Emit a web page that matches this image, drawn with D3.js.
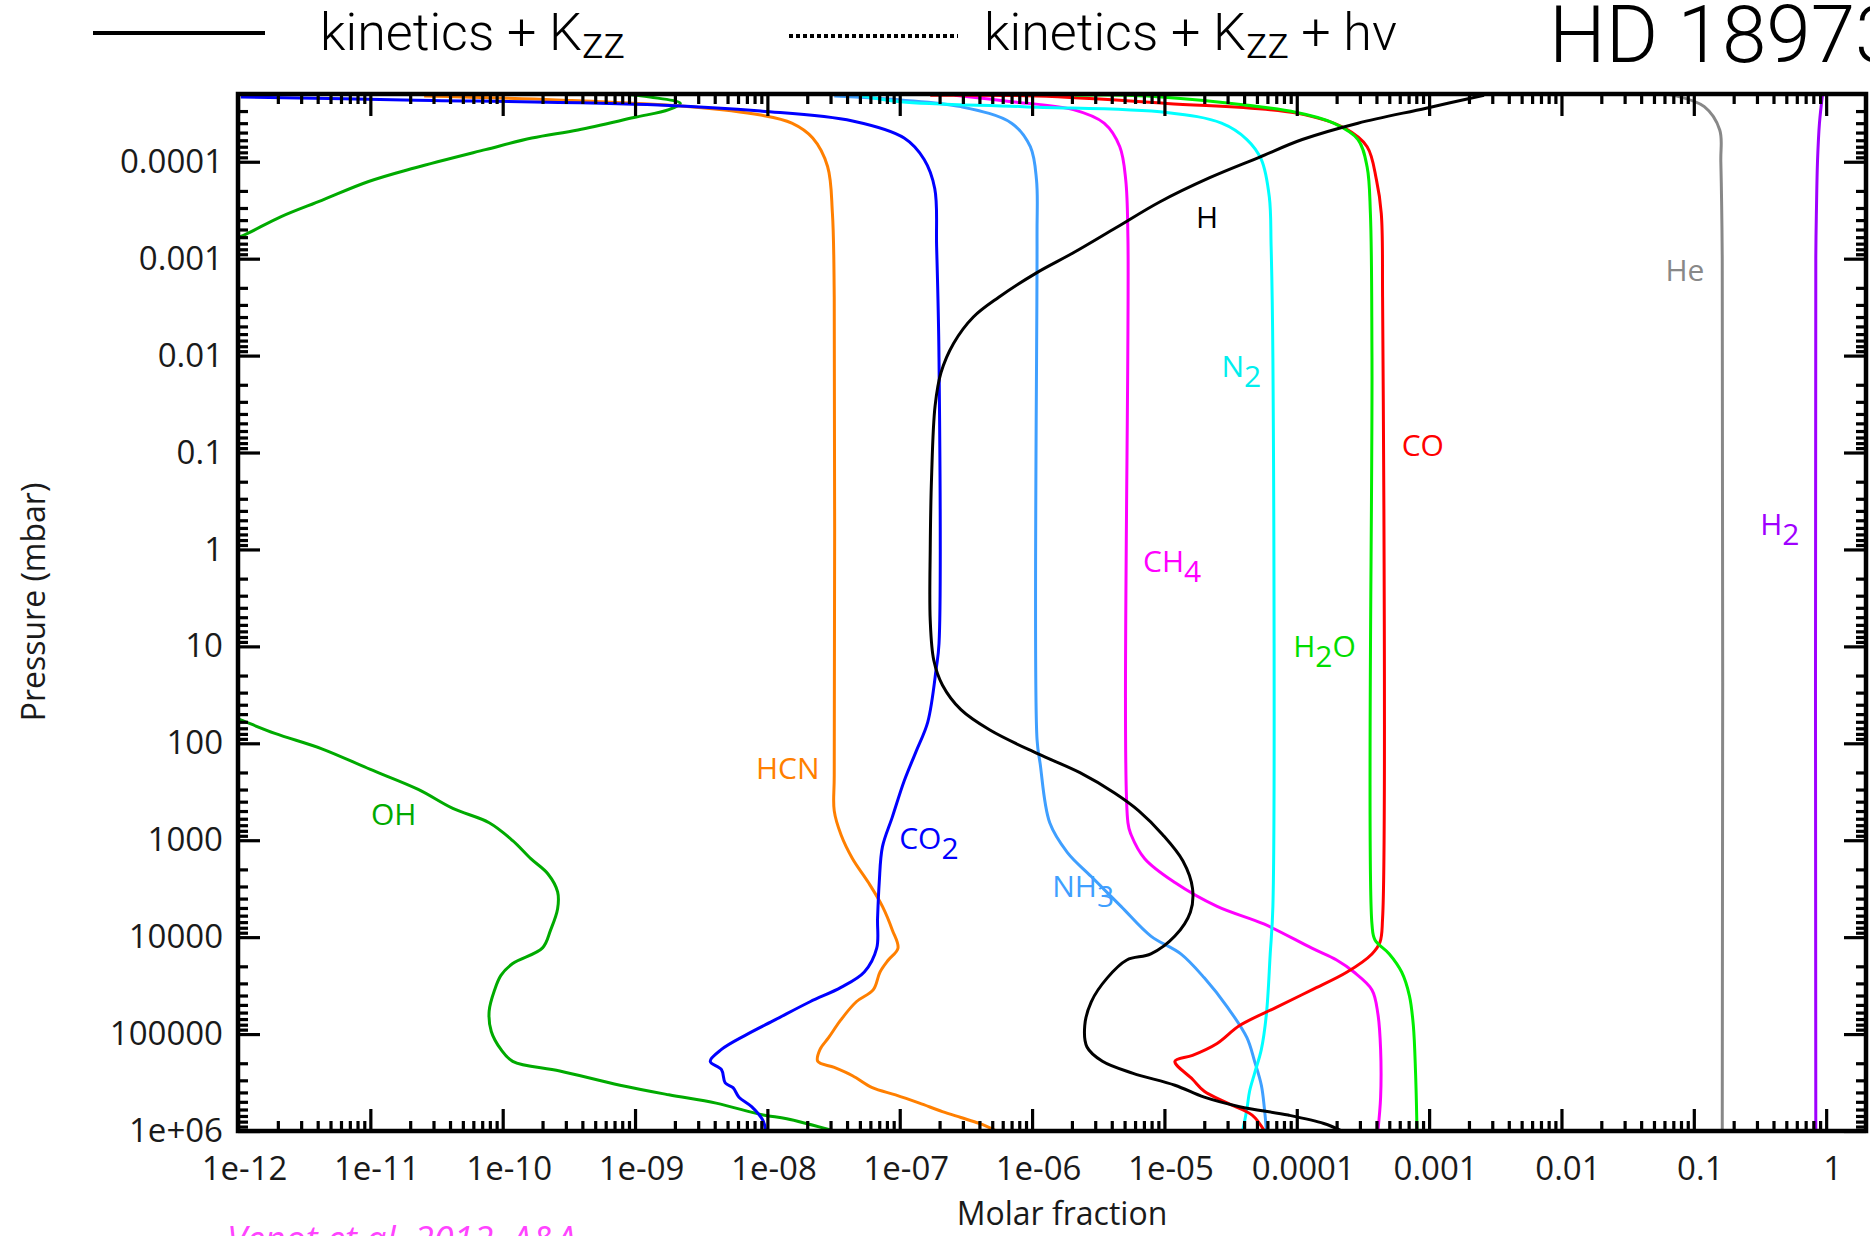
<!DOCTYPE html>
<html>
<head>
<meta charset="utf-8">
<script src="https://cdn.jsdelivr.net/npm/d3@7"></script>
<style>
  body { margin: 0; background: #fff; }
  svg { display: block; }
</style>
</head>
<body>
<svg id="chart" width="1870" height="1236"></svg>
<script>
// tick labels
const fractionTicks = [1e-12, 1e-11, 1e-10, 1e-9, 1e-8, 1e-7, 1e-6, 1e-5, 1e-4, 1e-3, 1e-2, 0.1, 1];
const fractionLabels = ["1e-12", "1e-11", "1e-10", "1e-09", "1e-08", "1e-07", "1e-06", "1e-05", "0.0001", "0.001", "0.01", "0.1", "1"];
const pressureTicks = [1e-4, 1e-3, 1e-2, 0.1, 1, 10, 100, 1000, 1e4, 1e5, 1e6];
const pressureLabels = ["0.0001", "0.001", "0.01", "0.1", "1", "10", "100", "1000", "10000", "100000", "1e+06"];

// profiles: [molar fraction, pressure (mbar)]
const ohTop = [[8e-10, 2.0e-5], [1.3e-9, 2.15e-5], [2.2e-9, 2.5e-5], [1.8e-9, 2.9e-5], [9.8e-10, 3.5e-5], [3.7e-10, 4.7e-5], [1.66e-10, 5.7e-5], [7.4e-11, 7.5e-5], [2.15e-11, 1.16e-4], [9.7e-12, 1.6e-4], [4.3e-12, 2.5e-4], [2.1e-12, 3.7e-4], [1.05e-12, 5.9e-4], [8e-13, 6.6e-4]];
const ohBottom = [[8e-13, 50], [1.0e-12, 56], [1.9e-12, 79], [4.3e-12, 114], [9.9e-12, 185], [2.3e-11, 299], [4.2e-11, 470], [7.9e-11, 660], [1.19e-10, 1010], [1.63e-10, 1550], [2.2e-10, 2230], [2.6e-10, 3420], [2.6e-10, 5080], [2.3e-10, 8460], [2.0e-10, 12900], [1.19e-10, 18700], [9.7e-11, 24800], [8.7e-11, 34900], [7.9e-11, 58000], [8.2e-11, 94000], [9.7e-11, 144000], [1.19e-10, 191000], [2.7e-10, 240000], [7.7e-10, 337000], [1.8e-9, 423000], [4.1e-9, 516000], [9.3e-9, 685000], [1.4e-8, 746000], [3.2e-8, 1e6]];
const hcn = [[2.55e-11, 2.1e-5], [2.55e-10, 2.3e-5], [2.6e-9, 2.7e-5], [8.9e-9, 3.3e-5], [1.53e-8, 4.0e-5], [2.2e-8, 5.7e-5], [2.85e-8, 1.12e-4], [3.1e-8, 3.4e-4], [3.2e-8, 2.5e-3], [3.2e-8, 213], [3.2e-8, 498], [3.6e-8, 877], [4.4e-8, 1550], [5.8e-8, 2730], [7.4e-8, 4810], [8.8e-8, 8470], [9.7e-8, 13000], [8.2e-8, 17200], [7.1e-8, 22900], [6.3e-8, 35000], [4.7e-8, 46400], [3.6e-8, 71000], [2.9e-8, 109000], [2.5e-8, 144000], [2.4e-8, 191000], [3.2e-8, 221000], [4.4e-8, 269000], [6.2e-8, 357000], [9.3e-8, 424000], [1.41e-7, 516000], [2.1e-7, 630000], [2.9e-7, 726000], [4.0e-7, 836000], [5.4e-7, 1e6]];
const co2 = [[1.05e-12, 2.15e-5], [1.8e-11, 2.3e-5], [1.5e-9, 2.6e-5], [8.9e-9, 3.0e-5], [4.4e-8, 3.8e-5], [1.08e-7, 5.7e-5], [1.53e-7, 9.5e-5], [1.84e-7, 1.9e-4], [1.9e-7, 7.5e-4], [1.98e-7, 0.0105], [1.98e-7, 9.4], [1.89e-7, 16.6], [1.63e-7, 60], [1.33e-7, 121], [1.08e-7, 245], [8.8e-8, 574], [7.4e-8, 1170], [7.0e-8, 2730], [6.8e-8, 6380], [6.7e-8, 13000], [5.4e-8, 22900], [3.6e-8, 33000], [2.1e-8, 46400], [1.15e-8, 71000], [6.8e-9, 103000], [4.5e-9, 144000], [3.7e-9, 191000], [4.5e-9, 233000], [4.8e-9, 319000], [5.5e-9, 357000], [6.1e-9, 448000], [7.6e-9, 561000], [9.3e-9, 788000], [9.7e-9, 1e6]];
const nh3 = [[3.2e-8, 2.1e-5], [1.01e-7, 2.3e-5], [2.9e-7, 2.7e-5], [7.0e-7, 4.0e-5], [9.7e-7, 7.0e-5], [1.08e-6, 1.54e-4], [1.09e-6, 6.2e-4], [1.09e-6, 91], [1.15e-6, 161], [1.36e-6, 662], [1.85e-6, 1340], [2.8e-6, 2370], [4.7e-6, 4810], [7.9e-6, 9750], [1.33e-5, 14900], [2.0e-5, 26300], [3.0e-5, 53000], [4.2e-5, 109000], [4.8e-5, 191000], [5.4e-5, 337000], [5.7e-5, 594000], [5.9e-5, 1e6]];
const ch4 = [[2.6e-7, 2.06e-5], [7.0e-7, 2.4e-5], [2.05e-6, 2.9e-5], [3.5e-6, 4.0e-5], [4.6e-6, 7.0e-5], [5.1e-6, 1.54e-4], [5.3e-6, 6.2e-4], [5.3e-6, 660], [5.6e-6, 877], [7.1e-6, 1550], [1.2e-5, 2730], [2.5e-5, 4810], [5.7e-5, 7360], [1.3e-4, 13000], [2.0e-4, 17200], [2.7e-4, 22900], [3.7e-4, 35000], [4.1e-4, 61700], [4.3e-4, 144000], [4.3e-4, 448000], [4.1e-4, 1e6]];
const n2 = [[4.9e-8, 2.06e-5], [1.01e-7, 2.4e-5], [8.6e-7, 2.7e-5], [1.04e-5, 3.1e-5], [2.7e-5, 4.0e-5], [4.2e-5, 5.9e-5], [5.4e-5, 9.5e-5], [6.2e-5, 2.3e-4], [6.4e-5, 7.5e-4], [6.6e-5, 0.0105], [6.6e-5, 4810], [6.3e-5, 14900], [5.9e-5, 61700], [5.4e-5, 144000], [4.8e-5, 254000], [4.4e-5, 389000], [4.2e-5, 594000], [3.9e-5, 1e6]];
const co = [[1.7e-7, 2.06e-5], [1.08e-6, 2.1e-5], [1.04e-5, 2.5e-5], [9.95e-5, 3.15e-5], [2.3e-4, 4.5e-5], [3.4e-4, 7.0e-5], [4.0e-4, 1.54e-4], [4.35e-4, 3.4e-4], [4.45e-4, 2.5e-3], [4.45e-4, 6400], [4.25e-4, 11300], [3.7e-4, 14900], [2.4e-4, 22900], [1.3e-4, 35000], [7.0e-5, 53000], [3.7e-5, 81700], [2.5e-5, 125000], [1.63e-5, 166000], [1.2e-5, 191000], [1.63e-5, 292000], [2.0e-5, 389000], [3.0e-5, 516000], [4.6e-5, 685000], [5.7e-5, 1e6]];
const h2o = [[2.1e-6, 2.06e-5], [7.4e-6, 2.1e-5], [1.0e-4, 3.1e-5], [1.9e-4, 4.0e-5], [2.9e-4, 5.9e-5], [3.4e-4, 1.13e-4], [3.6e-4, 3.4e-4], [3.7e-4, 0.0105], [3.7e-4, 7360], [3.9e-4, 10700], [5.0e-4, 14900], [6.2e-4, 22900], [7.1e-4, 40300], [7.6e-4, 81700], [7.9e-4, 254000], [8.1e-4, 1e6]];
const h = [[2.6e-3, 2.06e-5], [9.5e-4, 2.8e-5], [2.9e-4, 4.0e-5], [1.1e-4, 5.9e-5], [5.2e-5, 9.0e-5], [2.2e-5, 1.46e-4], [9.2e-6, 2.6e-4], [4.3e-6, 4.8e-4], [2.05e-6, 8.7e-4], [1.08e-6, 1.4e-3], [5.6e-7, 2.5e-3], [3.6e-7, 4.0e-3], [2.55e-7, 7.5e-3], [2.05e-7, 0.015], [1.85e-7, 0.033], [1.74e-7, 0.18], [1.7e-7, 1], [1.7e-7, 5.4], [1.81e-7, 14], [2.1e-7, 25], [2.9e-7, 45], [4.8e-7, 73], [1.1e-6, 128], [2.3e-6, 201], [4.2e-6, 326], [6.4e-6, 498], [9.7e-6, 877], [1.38e-5, 1640], [1.63e-5, 3140], [1.57e-5, 5530], [1.2e-5, 9750], [7.9e-6, 14900], [5.2e-6, 17200], [3.7e-6, 26300], [2.8e-6, 46400], [2.5e-6, 81700], [2.6e-6, 136000], [3.4e-6, 191000], [5.8e-6, 254000], [1.2e-5, 337000], [2.0e-5, 448000], [3.7e-5, 561000], [8.6e-5, 685000], [1.6e-4, 836000], [2.2e-4, 1e6]];
const he = [[0.06, 2.0e-5], [0.07, 2.06e-5], [0.12, 2.7e-5], [0.157, 4.7e-5], [0.16, 1.0e-4], [0.164, 1e-3], [0.164, 1e6]];
const h2 = [[0.94, 2.0e-5], [0.89, 4e-5], [0.86, 1e-4], [0.845, 3e-4], [0.835, 1e-3], [0.835, 1e6]];

const profiles = [ohTop, ohBottom, hcn, co2, nh3, ch4, n2, co, h2o, h, he, h2];
const profileColors = ["#00aa00", "#00aa00", "#ff7f00", "#0000ff", "#3f9fff", "#ff00ff", "#00ffff", "#ff0000", "#00ee00", "#000000", "#888888", "#9f00ff"];

// species labels: text parts alternate normal / subscript, position in data units
const labelParts = [["H"], ["He"], ["N", "2"], ["CO"], ["H", "2"], ["CH", "4"], ["H", "2", "O"], ["HCN"], ["OH"], ["CO", "2"], ["NH", "3"]];
const labelAt = [[1.73e-5, 4.8e-4], [0.061, 1.7e-3], [2.7e-5, 0.0166], [6.2e-4, 0.108], [0.317, 0.71], [6.9e-6, 1.7], [9.4e-5, 12.9], [8.2e-9, 233], [1.01e-11, 697], [9.9e-8, 1230], [1.42e-6, 3860]];
const labelColors = ["#000000", "#888888", "#00eeee", "#ff0000", "#9f00ff", "#ff00ff", "#00dd00", "#ff7f00", "#00aa00", "#0000ff", "#3f9fff"];

const svg = d3.select("#chart");
const x = d3.scaleLog().domain([1e-12, 2]).range([238, 1866]);
const y = d3.scaleLog().domain([2e-5, 1e6]).range([94, 1131]);

const plotLeft = x.range()[0], plotRight = x.range()[1];
const plotTop = y.range()[0], plotBottom = y.range()[1];

function minorTicks(scale) {
  const [lo, hi] = scale.domain();
  const out = [];
  for (let e = Math.floor(Math.log10(lo)); e <= Math.ceil(Math.log10(hi)); e++) {
    for (let k = 2; k <= 9; k++) {
      const v = k * Math.pow(10, e);
      if (v > lo && v < hi) out.push(v);
    }
  }
  return out;
}

svg.append("clipPath").attr("id", "plot")
  .append("rect")
  .attr("x", plotLeft).attr("y", plotTop)
  .attr("width", plotRight - plotLeft).attr("height", plotBottom - plotTop);

const line = d3.line()
  .x(d => x(d[0]))
  .y(d => y(d[1]))
  .curve(d3.curveCatmullRom.alpha(0.5));

svg.append("g")
  .attr("clip-path", "url(#plot)")
  .selectAll("path")
  .data(profiles)
  .enter()
  .append("path")
  .attr("d", line)
  .attr("fill", "none")
  .attr("stroke", (d, i) => profileColors[i])
  .attr("stroke-width", 3)
  .attr("stroke-linejoin", "round");

// axes, ticks pointing inward on all four sides
function addAxis(axis, transform) {
  const g = svg.append("g").attr("transform", transform).call(axis);
  g.select(".domain").remove();
  g.selectAll(".tick line").attr("stroke", "#000").attr("stroke-width", 3.2);
  g.selectAll("text")
    .attr("font-family", "'Open Sans', sans-serif")
    .attr("font-size", 33)
    .attr("fill", "#1a1a1a");
  return g;
}

addAxis(d3.axisBottom(x).tickValues(fractionTicks).tickSize(-22).tickPadding(26)
  .tickFormat((d, i) => fractionLabels[i]), `translate(0,${plotBottom})`)
  .selectAll("text").attr("dx", 6);
addAxis(d3.axisBottom(x).tickValues(minorTicks(x)).tickSize(-10).tickFormat(""), `translate(0,${plotBottom})`);
addAxis(d3.axisTop(x).tickValues(fractionTicks).tickSize(-22).tickFormat(""), `translate(0,${plotTop})`);
addAxis(d3.axisTop(x).tickValues(minorTicks(x)).tickSize(-10).tickFormat(""), `translate(0,${plotTop})`);

addAxis(d3.axisLeft(y).tickValues(pressureTicks).tickSize(-22).tickPadding(15)
  .tickFormat((d, i) => pressureLabels[i]), `translate(${plotLeft},0)`);
addAxis(d3.axisLeft(y).tickValues(minorTicks(y)).tickSize(-10).tickFormat(""), `translate(${plotLeft},0)`);
addAxis(d3.axisRight(y).tickValues(pressureTicks).tickSize(-22).tickFormat(""), `translate(${plotRight},0)`);
addAxis(d3.axisRight(y).tickValues(minorTicks(y)).tickSize(-10).tickFormat(""), `translate(${plotRight},0)`);

svg.append("rect")
  .attr("x", plotLeft).attr("y", plotTop)
  .attr("width", plotRight - plotLeft).attr("height", plotBottom - plotTop)
  .attr("fill", "none")
  .attr("stroke", "#000")
  .attr("stroke-width", 4.5);

// species labels
const labels = svg.selectAll("text.species")
  .data(labelParts)
  .enter()
  .append("text")
  .attr("class", "species")
  .attr("x", (d, i) => x(labelAt[i][0]))
  .attr("y", (d, i) => y(labelAt[i][1]))
  .attr("font-family", "'Open Sans', sans-serif")
  .attr("font-size", 30)
  .attr("fill", (d, i) => labelColors[i]);

labels.each(function (parts) {
  const t = d3.select(this);
  parts.forEach((p, j) => {
    t.append("tspan")
      .attr("dy", j === 0 ? 0 : (j % 2 === 1 ? 10 : -10))
      .text(p);
  });
});

// axis titles
svg.append("text")
  .attr("transform", "translate(45,602) rotate(-90)")
  .attr("text-anchor", "middle")
  .attr("font-family", "'Open Sans', sans-serif")
  .attr("font-size", 32)
  .attr("fill", "#1a1a1a")
  .text("Pressure (mbar)");

svg.append("text")
  .attr("x", 1062)
  .attr("y", 1225)
  .attr("text-anchor", "middle")
  .attr("font-family", "'Open Sans', sans-serif")
  .attr("font-size", 32)
  .attr("fill", "#1a1a1a")
  .text("Molar fraction");

svg.append("text")
  .attr("x", 227)
  .attr("y", 1252)
  .attr("font-family", "'Open Sans', sans-serif")
  .attr("font-style", "italic")
  .attr("font-size", 36)
  .attr("fill", "#ff44ff")
  .text("Venot et al. 2012, A&A");

// header legend
svg.append("line")
  .attr("x1", 93).attr("x2", 265).attr("y1", 33).attr("y2", 33)
  .attr("stroke", "#000").attr("stroke-width", 4);

svg.append("line")
  .attr("x1", 789).attr("x2", 958).attr("y1", 36).attr("y2", 36)
  .attr("stroke", "#000").attr("stroke-width", 4)
  .attr("stroke-dasharray", "4,3");

function legendText(xPos, tail) {
  const t = svg.append("text")
    .attr("x", xPos).attr("y", 50)
    .attr("font-family", "Roboto, sans-serif")
    .attr("font-weight", 300)
    .attr("font-size", 52)
    .attr("fill", "#000");
  t.append("tspan").text("kinetics + K");
  t.append("tspan").attr("dy", 8).attr("font-size", 44).text("zz");
  if (tail) t.append("tspan").attr("dy", -8).text(tail);
}
legendText(320, null);
legendText(984, " + hv");

svg.append("text")
  .attr("x", 1549).attr("y", 62)
  .attr("font-family", "Roboto, sans-serif")
  .attr("font-weight", 300)
  .attr("font-size", 80)
  .attr("fill", "#000")
  .text("HD 189733");
</script>
</body>
</html>
